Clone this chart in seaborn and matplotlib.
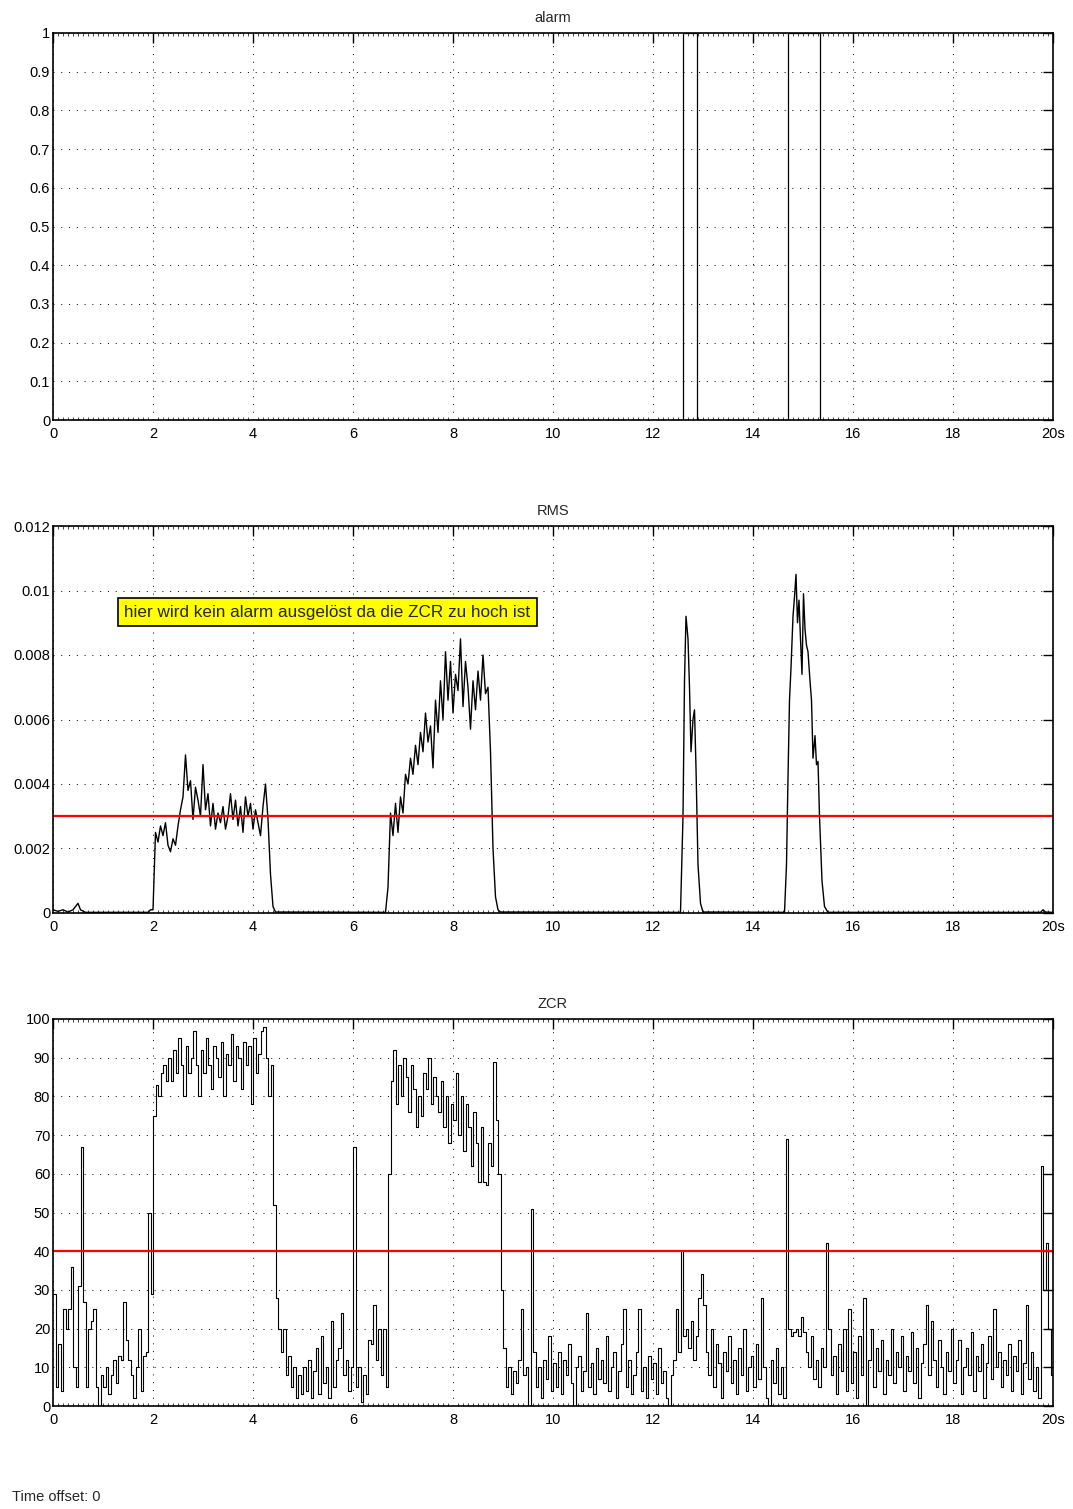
import numpy as np
import pandas as pd
import matplotlib.pyplot as plt
import seaborn as sns

# alarm signal (step data)
alarm_t = [0, 12.6, 12.88, 14.7, 15.34, 20]
alarm_v = [0, 1, 0, 1, 0, 0]

# RMS
rms_t = [0, 0.1, 0.2, 0.3, 0.4, 0.5, 0.55, 0.65, 1.9, 1.95, 2.0,
         2.05, 2.1, 2.15, 2.2, 2.25, 2.3, 2.35, 2.4, 2.45, 2.5,
         2.55, 2.6, 2.65, 2.7, 2.75, 2.8, 2.85, 2.9, 2.95, 3.0,
         3.05, 3.1, 3.15, 3.2, 3.25, 3.3, 3.35, 3.4, 3.45, 3.5,
         3.55, 3.6, 3.65, 3.7, 3.75, 3.8, 3.85, 3.9, 3.95, 4.0,
         4.05, 4.1, 4.15, 4.2, 4.25, 4.3, 4.35, 4.4, 4.45,
         6.65, 6.7, 6.75, 6.8, 6.85, 6.9, 6.95, 7.0,
         7.05, 7.1, 7.15, 7.2, 7.25, 7.3, 7.35, 7.4, 7.45, 7.5,
         7.55, 7.6, 7.65, 7.7, 7.75, 7.8, 7.85, 7.9, 7.95, 8.0,
         8.05, 8.1, 8.15, 8.2, 8.25, 8.3, 8.35, 8.4, 8.45, 8.5,
         8.55, 8.6, 8.65, 8.7, 8.75, 8.8, 8.85, 8.9, 8.95,
         12.55, 12.6, 12.63, 12.66, 12.7, 12.73, 12.76, 12.8, 12.83, 12.86,
         12.9, 12.95, 13.0,
         14.63, 14.67, 14.7, 14.73, 14.76, 14.8, 14.83, 14.86, 14.89, 14.92,
         14.95, 14.98, 15.01, 15.04, 15.07, 15.1, 15.14, 15.17, 15.2, 15.24,
         15.27, 15.3, 15.33, 15.38, 15.43, 15.5,
         19.75, 19.8, 19.85, 20.0]
rms_v = [0.0001, 0.00005, 0.0001, 0.00003, 0.0001, 0.0003, 0.0001, 0.00002, 0.00002, 0.0001, 0.0001,
         0.0025, 0.0022, 0.0027, 0.0024, 0.0028, 0.0021, 0.0019, 0.0023, 0.0021, 0.0027,
         0.0032, 0.0036, 0.0049, 0.0038, 0.0041, 0.0029, 0.0039, 0.0035, 0.0030, 0.0046,
         0.0032, 0.0037, 0.0027, 0.0034, 0.0026, 0.0031, 0.0028, 0.0033, 0.0026, 0.0030,
         0.0037, 0.0029, 0.0035, 0.0027, 0.0033, 0.0025, 0.0036, 0.0030, 0.0034, 0.0026,
         0.0032, 0.0028, 0.0024, 0.0033, 0.0040, 0.0029, 0.0012, 0.0002, 0.00003,
         0.00002, 0.0008, 0.0031, 0.0024, 0.0034, 0.0025, 0.0036, 0.0031,
         0.0043, 0.0040, 0.0048, 0.0043, 0.0052, 0.0046, 0.0056, 0.0050, 0.0062, 0.0053,
         0.0058, 0.0045, 0.0066, 0.0056, 0.0072, 0.0060, 0.0081, 0.0066, 0.0078, 0.0062,
         0.0074, 0.0069, 0.0085, 0.0064, 0.0078, 0.0070, 0.0057, 0.0072, 0.0063, 0.0075,
         0.0066, 0.0080, 0.0068, 0.0070, 0.0050, 0.0020, 0.0005, 0.0001, 0.00003,
         0.00002, 0.0030, 0.0072, 0.0092, 0.0085, 0.0070, 0.0050, 0.0060, 0.0063, 0.0045,
         0.0015, 0.0003, 0.00003,
         0.00002, 0.0015, 0.0042, 0.0066, 0.0076, 0.0092, 0.0098, 0.0105, 0.0090, 0.0097,
         0.0085, 0.0074, 0.0099, 0.0088, 0.0083, 0.0081, 0.0072, 0.0066, 0.0048, 0.0055,
         0.0046, 0.0047, 0.0030, 0.0010, 0.0002, 0.00002,
         0.00002, 0.0001, 0.00003, 0.00002]

# ZCR, one value every 0.05 s (one row per second)
zcr_v = [29, 5, 16, 4, 25, 20, 25, 36, 10, 5, 31, 67, 27, 5, 20, 22, 25, 5, 0, 8,
         5, 10, 3, 8, 12, 6, 13, 12, 27, 17, 12, 8, 2, 10, 20, 4, 13, 14, 50, 29,
         75, 83, 80, 86, 88, 84, 90, 84, 92, 86, 95, 88, 80, 93, 86, 90, 97, 88, 80, 92,
         86, 95, 88, 82, 93, 90, 85, 94, 80, 91, 88, 96, 84, 93, 90, 82, 94, 88, 93, 78,
         95, 86, 91, 97, 98, 90, 80, 88, 52, 28, 20, 14, 20, 8, 13, 5, 10, 2, 8, 3,
         10, 4, 12, 2, 9, 15, 3, 18, 6, 10, 2, 22, 5, 12, 15, 24, 8, 12, 4, 10,
         67, 5, 10, 1, 8, 3, 17, 16, 26, 12, 20, 8, 20, 5, 60, 84, 92, 78, 88, 80,
         90, 85, 76, 88, 82, 72, 80, 75, 86, 82, 90, 78, 85, 80, 76, 84, 72, 80, 68, 78,
         74, 86, 70, 80, 66, 78, 72, 62, 76, 68, 58, 72, 58, 57, 68, 62, 89, 74, 60, 30,
         15, 5, 10, 3, 9, 6, 12, 25, 8, 10, 0, 51, 14, 5, 10, 2, 12, 7, 18, 4,
         11, 5, 14, 3, 12, 8, 16, 6, 0, 10, 13, 4, 9, 24, 5, 11, 3, 15, 7, 12,
         6, 18, 4, 10, 14, 2, 9, 16, 25, 5, 12, 3, 8, 14, 25, 4, 10, 2, 13, 7,
         11, 3, 15, 6, 9, 2, 0, 8, 12, 25, 14, 40, 18, 20, 15, 22, 12, 18, 28, 34,
         26, 14, 8, 20, 5, 16, 11, 2, 14, 9, 18, 6, 12, 3, 15, 8, 20, 4, 10, 13,
         5, 16, 7, 28, 10, 2, 0, 12, 6, 15, 3, 10, 2, 69, 20, 18, 19, 20, 18, 23,
         19, 14, 10, 18, 7, 12, 5, 15, 10, 42, 20, 8, 13, 3, 16, 9, 20, 4, 25, 6,
         14, 2, 18, 8, 28, 0, 12, 20, 5, 15, 9, 17, 3, 12, 8, 20, 6, 14, 10, 18,
         4, 13, 9, 19, 6, 15, 2, 11, 16, 26, 8, 22, 12, 5, 17, 10, 3, 14, 9, 20,
         6, 12, 17, 3, 10, 15, 8, 19, 4, 13, 9, 16, 2, 11, 18, 7, 25, 10, 14, 5,
         12, 8, 16, 4, 13, 9, 17, 3, 11, 26, 7, 14, 4, 10, 2, 62, 30, 42, 20, 8, 12]
zcr_t = np.arange(len(zcr_v)) * 0.05

rms_threshold = 0.003
zcr_threshold = 40

x_ticks = list(range(0, 21, 2))
x_labels = [str(v) for v in x_ticks[:-1]] + ["20s"]
alarm_ticks = [round(v * 0.1, 1) for v in range(11)]
alarm_labels = ["0", "0.1", "0.2", "0.3", "0.4", "0.5", "0.6", "0.7", "0.8", "0.9", "1"]
rms_ticks = [0, 0.002, 0.004, 0.006, 0.008, 0.01, 0.012]
rms_labels = ["0", "0.002", "0.004", "0.006", "0.008", "0.01", "0.012"]
zcr_ticks = list(range(0, 101, 10))
zcr_labels = [str(v) for v in zcr_ticks]

note = "hier wird kein alarm ausgelöst da die ZCR zu hoch ist"

sns.set_theme(style="white")
plt.rcParams['font.family'] = ['Liberation Sans', 'DejaVu Sans']

fig = plt.figure(figsize=(10.73, 15.09), dpi=100)
left, width, height = 53 / 1073, 1000 / 1073, 387 / 1509
bottoms = [1 - 420 / 1509, 1 - 913 / 1509, 1 - 1406 / 1509]
axes = [fig.add_axes([left, b, width, height]) for b in bottoms]


def style_axis(ax, title, yticks, ylabels, ylim):
    ax.set_xlim(0, 20)
    ax.set_ylim(*ylim)
    ax.set_xticks(x_ticks)
    ax.set_xticklabels(x_labels)
    ax.set_xticks(np.arange(0, 20.01, 0.1), minor=True)
    ax.set_yticks(yticks)
    ax.set_yticklabels(ylabels)
    ax.tick_params(axis="both", which="major", direction="in", length=7, width=1,
                   top=True, right=True, labelsize=10.5, colors="black")
    ax.tick_params(axis="x", which="major", pad=5)
    ax.tick_params(axis="y", which="major", pad=2)
    ax.tick_params(axis="x", which="minor", direction="in", length=2, width=0.6,
                   top=True, bottom=True)
    ax.grid(True, which="major", color="black", linestyle=(0, (1, 7)), linewidth=0.7)
    for s in ax.spines.values():
        s.set_color("black")
        s.set_linewidth(1.2)
    ax.set_title(title, fontsize=10.5, pad=8)
    ax.set_xlabel("")
    ax.set_ylabel("")


# alarm
ax = axes[0]
sns.lineplot(x=alarm_t, y=alarm_v, ax=ax, color="black", linewidth=0.9,
             drawstyle="steps-post", estimator=None, sort=False)
style_axis(ax, "alarm", alarm_ticks, alarm_labels, (0, 1))

# RMS
ax = axes[1]
sns.lineplot(x=rms_t, y=rms_v, ax=ax, color="black", linewidth=1.0,
             estimator=None, sort=False)
ax.axhline(rms_threshold, color="red", linewidth=1.6)
style_axis(ax, "RMS", rms_ticks, rms_labels, (0, 0.012))
ax.text(1.43, 0.00933, note, fontsize=12.3, ha="left", va="center",
        bbox=dict(boxstyle="square,pad=0.38", facecolor="yellow", edgecolor="black", linewidth=1.2))

# ZCR
ax = axes[2]
sns.lineplot(x=zcr_t, y=zcr_v, ax=ax, color="black", linewidth=0.8,
             drawstyle="steps-post", estimator=None, sort=False)
ax.axhline(zcr_threshold, color="red", linewidth=1.6)
style_axis(ax, "ZCR", zcr_ticks, zcr_labels, (0, 100))

fig.text(12 / 1073, 1 - 1497 / 1509, "Time offset: 0", fontsize=10.5, ha="left", va="center")

fig.savefig("out.png", dpi=100)
